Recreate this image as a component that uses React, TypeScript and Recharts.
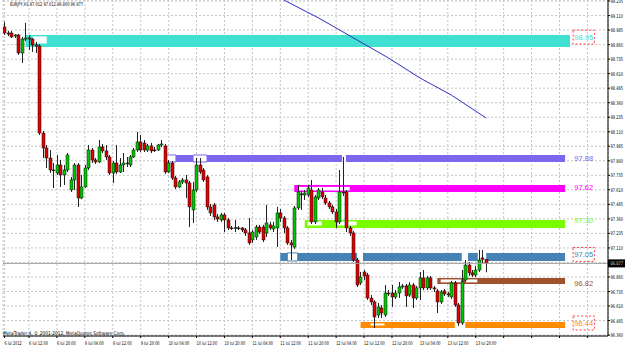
import React from 'react';
import { ComposedChart, Bar, Line, XAxis, YAxis, CartesianGrid, ReferenceArea, ReferenceLine } from 'recharts';

// EURJPY H1 candles, bar 0 = 6 Jul 2012 05:00
const opens = [99.012, 98.960, 98.960, 98.934, 98.943, 98.788, 98.908, 98.917, 98.908, 98.857,
  98.848, 98.099, 97.970, 97.884, 97.781, 97.755, 97.824, 97.738, 97.781, 97.609,
  97.695, 97.824, 97.540, 97.635, 97.798, 97.953, 97.867, 97.850, 97.979, 97.945,
  97.893, 97.755, 97.841, 97.764, 97.824, 97.841, 97.824, 97.893, 97.953, 98.022,
  98.013, 97.953, 97.988, 97.953, 97.953, 97.996, 97.988, 97.764, 97.841, 97.712,
  97.635, 97.678, 97.695, 97.669, 97.437, 97.609, 97.824, 97.781, 97.721, 97.463,
  97.480, 97.377, 97.351, 97.394, 97.351, 97.282, 97.282, 97.282, 97.282, 97.265,
  97.239, 97.179, 97.204, 97.290, 97.290, 97.239, 97.308, 97.273, 97.282, 97.411,
  97.368, 97.282, 97.153, 97.118, 97.454, 97.574, 97.566, 97.566, 97.609, 97.334,
  97.540, 97.592, 97.540, 97.497, 97.463, 97.420, 97.334, 97.592, 97.592, 97.282,
  97.239, 97.006, 96.809, 96.903, 96.877, 96.679, 96.645, 96.533, 96.593, 96.533,
  96.722, 96.722, 96.688, 96.722, 96.774, 96.783, 96.705, 96.791, 96.679, 96.766,
  96.852, 96.766, 96.852, 96.766, 96.740, 96.645, 96.740, 96.714, 96.688, 96.809,
  96.619, 96.464, 96.834, 96.963, 96.895, 96.877, 96.920, 97.024, 97.012];

const highs = [99.055, 98.977, 98.977, 98.951, 98.951, 98.926, 99.046, 98.943, 98.917, 98.883,
  98.865, 98.117, 97.996, 97.953, 97.841, 97.910, 97.867, 97.824, 97.927, 97.721,
  97.841, 97.841, 97.738, 97.824, 97.996, 97.970, 97.884, 98.039, 98.005, 97.996,
  97.910, 97.858, 97.996, 97.884, 97.927, 97.893, 97.910, 97.970, 98.108, 98.082,
  98.039, 98.005, 98.013, 97.979, 98.005, 98.039, 98.005, 97.867, 97.858, 97.729,
  97.695, 97.712, 97.738, 97.686, 97.678, 97.884, 97.884, 97.798, 97.738, 97.488,
  97.497, 97.402, 97.411, 97.411, 97.368, 97.299, 97.351, 97.299, 97.290, 97.282,
  97.368, 97.265, 97.308, 97.308, 97.308, 97.480, 97.334, 97.334, 97.463, 97.445,
  97.385, 97.299, 97.179, 97.471, 97.652, 97.600, 97.609, 97.652, 97.695, 97.566,
  97.626, 97.626, 97.566, 97.514, 97.480, 97.445, 97.781, 97.893, 97.609, 97.299,
  97.256, 97.024, 96.903, 96.920, 96.895, 96.705, 96.662, 96.636, 96.619, 96.791,
  96.748, 96.791, 96.748, 96.817, 96.800, 96.800, 96.817, 96.809, 96.783, 96.903,
  96.920, 96.869, 96.869, 96.783, 96.757, 96.748, 96.757, 96.731, 96.826, 96.826,
  96.636, 96.920, 97.006, 96.989, 96.920, 96.955, 97.093, 97.093, 97.012];

const lows = [98.943, 98.934, 98.917, 98.917, 98.771, 98.702, 98.891, 98.814, 98.797, 98.788,
  98.082, 97.884, 97.798, 97.755, 97.626, 97.738, 97.635, 97.652, 97.764, 97.592,
  97.609, 97.463, 97.531, 97.626, 97.781, 97.841, 97.833, 97.841, 97.927, 97.867,
  97.738, 97.669, 97.747, 97.755, 97.764, 97.807, 97.807, 97.884, 97.936, 97.936,
  97.936, 97.936, 97.927, 97.936, 97.945, 97.979, 97.747, 97.755, 97.695, 97.617,
  97.626, 97.660, 97.540, 97.290, 97.325, 97.592, 97.747, 97.678, 97.437, 97.385,
  97.351, 97.334, 97.334, 97.247, 97.265, 97.265, 97.247, 97.265, 97.247, 97.213,
  97.136, 97.153, 97.179, 97.230, 97.161, 97.204, 97.265, 97.247, 97.118, 97.334,
  97.239, 97.136, 97.006, 97.101, 97.437, 97.437, 97.523, 97.549, 97.316, 97.316,
  97.523, 97.531, 97.480, 97.445, 97.402, 97.282, 97.316, 97.557, 97.247, 97.213,
  96.989, 96.774, 96.791, 96.834, 96.662, 96.619, 96.421, 96.507, 96.507, 96.516,
  96.697, 96.602, 96.671, 96.679, 96.757, 96.602, 96.688, 96.593, 96.662, 96.662,
  96.748, 96.748, 96.748, 96.731, 96.550, 96.628, 96.697, 96.688, 96.671, 96.602,
  96.438, 96.447, 96.817, 96.869, 96.860, 96.860, 96.903, 96.981, 96.900];

const closes = [98.960, 98.951, 98.926, 98.943, 98.788, 98.908, 98.917, 98.908, 98.857, 98.848,
  98.099, 97.970, 97.884, 97.781, 97.778, 97.824, 97.738, 97.781, 97.910, 97.695,
  97.824, 97.540, 97.635, 97.798, 97.953, 97.867, 97.850, 97.979, 97.945, 97.893,
  97.755, 97.841, 97.764, 97.824, 97.841, 97.838, 97.893, 97.953, 98.022, 97.953,
  97.953, 97.988, 97.945, 97.950, 97.996, 98.005, 97.764, 97.841, 97.712, 97.635,
  97.678, 97.695, 97.669, 97.463, 97.609, 97.824, 97.764, 97.695, 97.463, 97.411,
  97.377, 97.359, 97.394, 97.351, 97.282, 97.279, 97.285, 97.279, 97.265, 97.239,
  97.153, 97.247, 97.290, 97.247, 97.179, 97.325, 97.282, 97.299, 97.411, 97.368,
  97.282, 97.153, 97.136, 97.454, 97.592, 97.571, 97.583, 97.626, 97.334, 97.549,
  97.609, 97.549, 97.497, 97.463, 97.420, 97.334, 97.592, 97.583, 97.282, 97.239,
  97.006, 96.791, 96.860, 96.869, 96.679, 96.645, 96.516, 96.602, 96.550, 96.722,
  96.714, 96.688, 96.722, 96.774, 96.783, 96.697, 96.791, 96.679, 96.766, 96.852,
  96.766, 96.852, 96.766, 96.757, 96.645, 96.731, 96.714, 96.705, 96.809, 96.619,
  96.464, 96.817, 96.963, 96.895, 96.877, 96.920, 97.006, 97.012, 96.977];

// moving average, read at a few bars
const maBars = [80, 90, 100, 110, 119, 128, 138];
const maValues = [99.244, 99.089, 98.917, 98.745, 98.573, 98.426, 98.228];

const xTickBars = [0, 7, 15, 23, 31, 39, 47, 55, 63, 71, 79, 87, 95, 103, 111, 119, 127, 135, 143, 151, 159, 167];
const xTickLabels = ['6 Jul 2012', '6 Jul 12:00', '6 Jul 20:00', '9 Jul 04:00', '9 Jul 12:00', '9 Jul 20:00',
  '10 Jul 04:00', '10 Jul 12:00', '10 Jul 20:00', '11 Jul 04:00', '11 Jul 12:00', '11 Jul 20:00',
  '12 Jul 04:00', '12 Jul 12:00', '12 Jul 20:00', '13 Jul 04:00', '13 Jul 12:00', '13 Jul 20:00', '', '', '', ''];
const yTicks = [96.360, 96.485, 96.610, 96.735, 96.860, 96.985, 97.110, 97.235, 97.360, 97.485, 97.610, 97.735,
  97.860, 97.985, 98.110, 98.235, 98.360, 98.485, 98.610, 98.735, 98.860, 98.985, 99.110, 99.235];

// support / resistance zones
const zoneLabels = ['98.95', '97.88', '97.62', '97.30', '97.05', '96.82', '96.44'];
const zoneColors = ['#40E0D0', '#7B68EE', '#FF00FF', '#7CFC00', '#4682B4', '#A0522D', '#FF8C00'];
const zoneTops = [98.943, 97.910, 97.652, 97.351, 97.067, 96.852, 96.473];
const zoneBottoms = [98.839, 97.850, 97.592, 97.282, 96.998, 96.800, 96.421];
const zoneStarts = [6, 46, 83, 86, 79, 124, 102];
const zoneEnds = [162, 160.6, 160.6, 160.6, 160.6, 160.6, 160.6];
const zoneBoxed = [true, false, false, false, true, false, true];
const labelPrice = [98.925, 97.885, 97.635, 97.345, 97.054, 96.809, 96.464];

// white insets inside the zones
const insetZone = [0, 1, 1, 1, 2, 3, 3, 4, 4, 4, 4, 5, 5, 6, 6];
const insetFrom = [7.9, 46.2, 54, 96.7, 84, 86.7, 95.3, 81, 101, 131, 135.6, 124.8, 131.9, 104.7, 129];
const insetTo = [12.2, 49.1, 58, 97.8, 99, 91, 101, 84, 102.7, 132.8, 138, 131, 135.6, 109, 132];
const insetTop = [98.935, 97.910, 97.910, 97.910, 97.640, 97.342, 97.342, 97.067, 97.067, 97.067, 97.067, 96.843, 96.843, 96.464, 96.473];
const insetBottom = [98.865, 97.850, 97.850, 97.850, 97.600, 97.299, 97.299, 96.998, 96.998, 96.998, 96.998, 96.809, 96.809, 96.438, 96.421];
const insetOutlined = [true, true, true, false, true, true, true, true, false, false, false, true, true, true, false];

const lastPrice = 96.977;
const TITLE = 'EURJPY,H1  97.012 97.012 96.900 96.977';
const COPYRIGHT = 'MetaTrader 4, © 2001-2012, MetaQuotes Software Corp.';

const rows = opens.map((o, i) => {
  const m = maBars.indexOf(i);
  return {
    i,
    open: o,
    high: highs[i],
    low: lows[i],
    close: closes[i],
    range: [lows[i], highs[i]],
    ma: m >= 0 ? maValues[m] : null,
  };
});

const FONT = 'Tahoma, "DejaVu Sans", sans-serif';

const Candle = (props: any) => {
  const { x, y, width, height, payload } = props;
  if (!payload) return null;
  const { open, close, high, low } = payload;
  const h = Math.abs(height);
  const top = height < 0 ? y + height : y;
  const k = high - low > 0 ? h / (high - low) : 0;
  const py = (v: number) => top + (high - v) * k;
  const cx = Math.round(x + width / 2) + 0.5;
  const up = close >= open;
  const bTop = py(Math.max(open, close));
  const bBot = py(Math.min(open, close));
  return (
    <g>
      <line x1={cx} x2={cx} y1={top} y2={top + h} stroke="#222" strokeWidth={1} />
      <rect x={cx - 1.5} y={bTop} width={3} height={Math.max(bBot - bTop, 0.8)}
        fill={up ? '#00c800' : '#e00000'} stroke="#111" strokeWidth={0.5} />
    </g>
  );
};

const XTick = (props: any) => {
  const { x, y, payload } = props;
  const idx = xTickBars.indexOf(payload.value);
  const txt = idx >= 0 ? xTickLabels[idx] : '';
  if (!txt) return null;
  return (
    <text x={x} y={y + 5} fontSize={5} fontFamily={FONT} fill="#000" textAnchor="start"
      textLength={txt.length * 1.72} lengthAdjust="spacingAndGlyphs">
      {txt}
    </text>
  );
};

const YTick = (props: any) => {
  const { x, y, payload } = props;
  return (
    <text x={x - 0.5} y={y + 2} fontSize={5} fontFamily={FONT} fill="#000" textAnchor="start"
      textLength={12.5} lengthAdjust="spacingAndGlyphs">
      {Number(payload.value).toFixed(3)}
    </text>
  );
};

const PriceTag = (props: any) => {
  const { viewBox } = props;
  if (!viewBox) return null;
  const px = viewBox.x + viewBox.width;
  return (
    <g>
      <rect x={px} y={viewBox.y - 4} width={17} height={8} fill="#000" />
      <text x={px + 2.5} y={viewBox.y + 2} fontSize={5} fontFamily={FONT} fill="#fff"
        textLength={12.5} lengthAdjust="spacingAndGlyphs">{lastPrice.toFixed(3)}</text>
    </g>
  );
};

export default function App() {
  return (
    <div style={{ position: 'relative', width: 625, height: 345, background: '#fff' }}>
      <style>{'body{margin:0}'}</style>
      <ComposedChart width={625} height={345} data={rows} margin={{ top: 0, right: 0, bottom: 0, left: 3 }}>
        <CartesianGrid stroke="#c4c4c4" strokeDasharray="2 2" />
        <XAxis dataKey="i" type="number" domain={[-0.46, 172.9]} allowDataOverflow ticks={xTickBars}
          height={9} tickSize={2} tick={<XTick />} axisLine={{ stroke: '#000' }} tickLine={{ stroke: '#000' }} interval={0} />
        <YAxis orientation="right" domain={[96.352, 99.244]} allowDataOverflow ticks={yTicks} width={17}
          tickSize={2} tickMargin={1} interval={0} tick={<YTick />}
          axisLine={{ stroke: '#000' }} tickLine={{ stroke: '#000' }} />
        {zoneLabels.map((l, z) => (
          <ReferenceArea key={'z' + l} x1={zoneStarts[z]} x2={zoneEnds[z]} y1={zoneBottoms[z]} y2={zoneTops[z]}
            fill={zoneColors[z]} fillOpacity={1} stroke="none" ifOverflow="hidden" />
        ))}
        {insetZone.map((z, n) => (
          <ReferenceArea key={'in' + n} x1={insetFrom[n]} x2={insetTo[n]} y1={insetBottom[n]} y2={insetTop[n]}
            fill="#fff" fillOpacity={1} stroke={insetOutlined[n] ? zoneColors[z] : 'none'} strokeWidth={1} ifOverflow="hidden" />
        ))}
        <ReferenceLine y={lastPrice} stroke="#a0a0a0" strokeWidth={1} label={<PriceTag />} />
        <Bar dataKey="range" barSize={3} shape={<Candle />} isAnimationActive={false} />
        <Line dataKey="ma" stroke="#3030c0" strokeWidth={1} dot={false} connectNulls isAnimationActive={false} />
        {zoneLabels.map((l, z) => (
          <ReferenceArea key={'l' + l} x1={162.9} x2={169} y1={labelPrice[z] - 0.06} y2={labelPrice[z] + 0.06}
            fill="none" stroke={zoneBoxed[z] ? '#ff4040' : 'none'} strokeDasharray="2 2" strokeWidth={1}
            label={{ value: l, position: 'center', fill: zoneColors[z], fontSize: 7.5, fontFamily: 'Arial, "Liberation Sans", sans-serif' }} />
        ))}
      </ComposedChart>
      <svg width={625} height={345} style={{ position: 'absolute', left: 0, top: 0, pointerEvents: 'none' }}>
        <text x={10} y={6} fontSize={5} fontFamily={FONT} fill="#000" textLength={73} lengthAdjust="spacingAndGlyphs">{TITLE}</text>
        <text x={3} y={335} fontSize={5} fontFamily={FONT} fill="#000" textLength={122} lengthAdjust="spacingAndGlyphs">{COPYRIGHT}</text>
      </svg>
    </div>
  );
}
